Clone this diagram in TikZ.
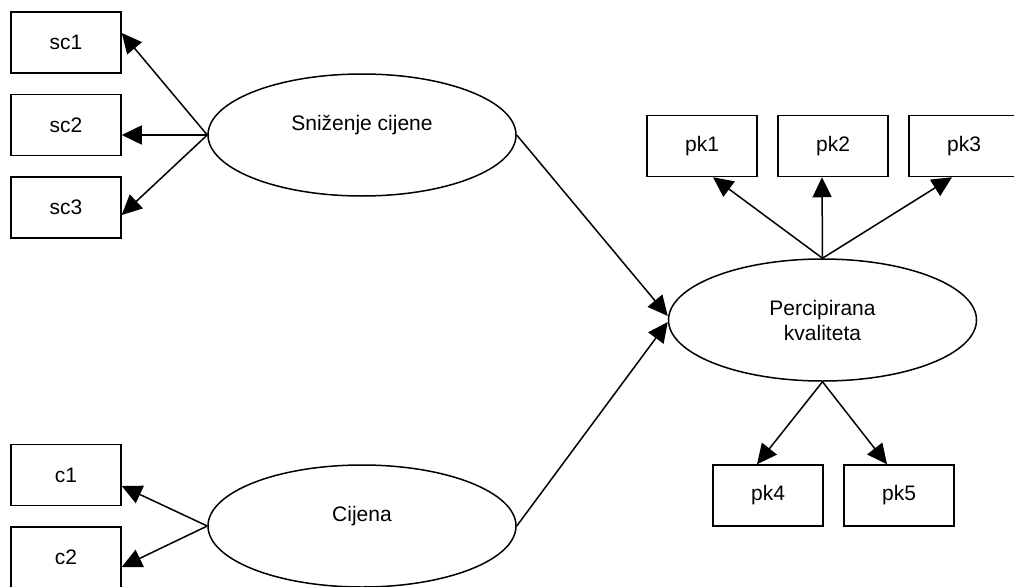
\documentclass[tikz,border=0pt]{standalone}
\usepackage{fontspec}
\setmainfont{Liberation Sans}
\usetikzlibrary{arrows.meta,shapes.geometric}
\begin{document}
\begin{tikzpicture}[x=1pt,y=-1pt,
  every node/.style={font=\fontsize{21}{25}\selectfont},
  ind/.style={draw,line width=1.5pt,rectangle,minimum width=110pt,minimum height=61pt,inner sep=0pt},
  lat/.style={draw,line width=1.5pt,ellipse,minimum width=308pt,minimum height=122pt,inner sep=0pt,align=center},
  arr/.style={line width=1.5pt,-{Triangle[length=20pt,width=19pt]}}]
\useasboundingbox (0,0) rectangle (1014,586);
\clip (0,0) rectangle (1014,586);
\fill[white] (0,0) rectangle (1014,586);
% latent variables
\node[lat] (e1) at (362,135) {Sniženje cijene\\~};
\node[lat] (e2) at (362,526) {Cijena\\~};
\node[lat] (e3) at (822.5,320) {Percipirana\\kvaliteta};
% indicators
\node[ind] (sc1) at (66,42.5) {sc1};
\node[ind] (sc2) at (66,125) {sc2};
\node[ind] (sc3) at (66,207.5) {sc3};
\node[ind] (c1) at (66,475) {c1};
\node[ind] (c2) at (66,557.5) {c2};
\node[ind] (pk1) at (702,146) {pk1};
\node[ind] (pk2) at (833,146) {pk2};
\node[ind] (pk3) at (964,146) {pk3};
\node[ind] (pk4) at (768,495.5) {pk4};
\node[ind] (pk5) at (899,495.5) {pk5};
% connectors
\draw[arr] (e1.west) -- ([yshift=9.5pt]sc1.east);
\draw[arr] (e1.west) -- ([yshift=-10pt]sc2.east);
\draw[arr] (e1.west) -- ([yshift=-7.5pt]sc3.east);
\draw[arr] (e2.west) -- ([yshift=-11pt]c1.east);
\draw[arr] (e2.west) -- ([yshift=-9.5pt]c2.east);
\draw[arr] (e1.east) -- ([yshift=4pt]e3.west);
\draw[arr] (e2.east) -- ([yshift=-2pt]e3.west);
\draw[arr] (e3.north) -- ([xshift=11pt]pk1.south);
\draw[arr] (e3.north) -- ([xshift=-11pt]pk2.south);
\draw[arr] (e3.north) -- ([xshift=-12pt]pk3.south);
\draw[arr] (e3.south) -- ([xshift=-11pt]pk4.north);
\draw[arr] (e3.south) -- ([xshift=-12pt]pk5.north);
\end{tikzpicture}
\end{document}
